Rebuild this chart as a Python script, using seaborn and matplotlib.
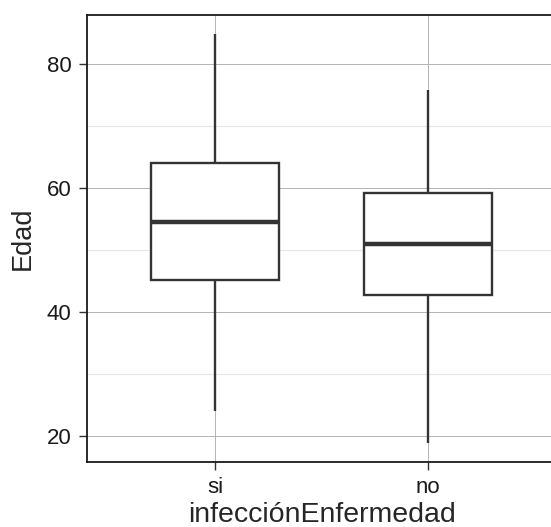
#!/usr/bin/env python3
"""Boxplot of Edad by infecciónEnfermedad, ggplot-like styling."""

import matplotlib
matplotlib.use("Agg")
import matplotlib.pyplot as plt
from matplotlib.ticker import MultipleLocator
import pandas as pd
import seaborn as sns

# five-number summaries (min, q1, median, q3, max)
groups = ["si", "no"]
edad_si = [24.0, 45.2, 54.5, 64.0, 84.8]
edad_no = [18.9, 42.7, 50.9, 59.2, 75.8]

df = pd.DataFrame({
    "infecciónEnfermedad": [groups[0]] * len(edad_si) + [groups[1]] * len(edad_no),
    "Edad": edad_si + edad_no,
})

sns.set_style("white")
plt.rcParams["font.family"] = ["Liberation Sans", "DejaVu Sans"]

fig = plt.figure(figsize=(5.51, 5.27), dpi=100)
ax = fig.add_axes([87 / 551, 1 - 462 / 527, 469 / 551, 447 / 527])

line_c = "#333333"
sns.boxplot(
    data=df, x="infecciónEnfermedad", y="Edad", order=groups,
    width=0.6, whis=(0, 100), color="white", linecolor=line_c,
    linewidth=1.7, ax=ax,
    medianprops=dict(linewidth=3.2, color=line_c),
    capprops=dict(linewidth=0),
)

ax.set_xlim(-0.6, 1.6)
ax.set_ylim(15.8, 87.9)
ax.yaxis.set_major_locator(MultipleLocator(20))
ax.yaxis.set_minor_locator(MultipleLocator(10))
ax.grid(True, which="major", color="#b3b3b3", linewidth=0.7)
ax.grid(True, which="minor", axis="y", color="#e6e6e6", linewidth=0.8)
ax.set_axisbelow(True)

for side in ("left", "top", "bottom"):
    ax.spines[side].set_visible(True)
    ax.spines[side].set_color("#1a1a1a")
    ax.spines[side].set_linewidth(1.3)
ax.spines["right"].set_visible(False)

ax.tick_params(axis="both", which="major", bottom=True, left=True,
               length=6, width=1.0, color="#333333",
               labelsize=16, pad=5, labelcolor="#1a1a1a")
ax.tick_params(axis="y", which="minor", length=0, left=False)
ax.set_xlabel("infecciónEnfermedad", fontsize=20.5, labelpad=3)
ax.set_ylabel("Edad", fontsize=19.5, labelpad=8)

fig.savefig("out.png", dpi=100)
